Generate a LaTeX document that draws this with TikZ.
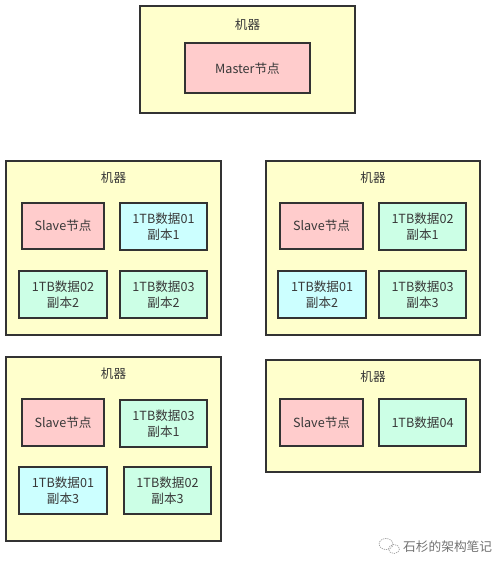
\documentclass[tikz,border=0pt]{standalone}
\usepackage{fontspec}
\setmainfont{Noto Sans CJK SC}
\begin{document}
\begin{tikzpicture}[x=1pt,y=-1pt,
  machine/.style={draw=black!80,line width=1.4pt,fill=machfill},
  inner/.style={draw=black!80,line width=1.8pt},
  slave/.style={inner,fill=slavefill},
  cyanbox/.style={inner,fill=cyanfill},
  mintbox/.style={inner,fill=mintfill},
  lbl/.style={font=\fontsize{12.6}{16}\selectfont,text=black!78,align=center,inner sep=0pt}]
\definecolor{machfill}{HTML}{FFFFCC}
\definecolor{slavefill}{HTML}{FFCCCC}
\definecolor{cyanfill}{HTML}{CCFFFF}
\definecolor{mintfill}{HTML}{CCFFE6}
\useasboundingbox[fill=white] (0,0) rectangle (500,562);
% top machine
\draw[machine] (140,6) rectangle (355,113);
\node[lbl] (m0) at (247.5,25) {机器};
\draw[slave] (185,43) rectangle (310,93);
\node[lbl] (master) at (247.5,69) {Master节点};
% machine 1
\draw[machine] (6,161) rectangle (221,335);
\node[lbl] (m1) at (113.5,178) {机器};
\draw[slave] (22,203) rectangle (104,249);
\node[lbl] (s1) at (63,226) {Slave节点};
\draw[cyanbox] (120,203) rectangle (207,250);
\node[lbl] (a1) at (163.5,226.5) {1TB数据01\\副本1};
\draw[mintbox] (19,271) rectangle (107,318);
\node[lbl] (b1) at (63,294.5) {1TB数据02\\副本2};
\draw[mintbox] (120,271) rectangle (207,318);
\node[lbl] (c1) at (163.5,294.5) {1TB数据03\\副本2};
% machine 2
\draw[machine] (266,161) rectangle (480,335);
\node[lbl] (m2) at (373,178) {机器};
\draw[slave] (280,203) rectangle (363,249);
\node[lbl] (s2) at (321.5,226) {Slave节点};
\draw[mintbox] (379,203) rectangle (466,250);
\node[lbl] (a2) at (422.5,226.5) {1TB数据02\\副本1};
\draw[cyanbox] (278,271) rectangle (366,318);
\node[lbl] (b2) at (322,294.5) {1TB数据01\\副本2};
\draw[mintbox] (379,271) rectangle (466,318);
\node[lbl] (c2) at (422.5,294.5) {1TB数据03\\副本3};
% machine 3
\draw[machine] (6,357) rectangle (221,541);
\node[lbl] (m3) at (113.5,374) {机器};
\draw[slave] (22,399) rectangle (104,446);
\node[lbl] (s3) at (63,422.5) {Slave节点};
\draw[mintbox] (120,400) rectangle (207,447);
\node[lbl] (a3) at (163.5,423.5) {1TB数据03\\副本1};
\draw[cyanbox] (19,467) rectangle (107,514);
\node[lbl] (b3) at (63,490.5) {1TB数据01\\副本3};
\draw[mintbox] (124,467) rectangle (211,514);
\node[lbl] (c3) at (167.5,490.5) {1TB数据02\\副本3};
% machine 4
\draw[machine] (266,360) rectangle (480,472);
\node[lbl] (m4) at (373,377) {机器};
\draw[slave] (280,399) rectangle (363,446);
\node[lbl] (s4) at (321.5,422.5) {Slave节点};
\draw[mintbox] (379,399) rectangle (466,446);
\node[lbl] (a4) at (422.5,422.5) {1TB数据04};
% watermark
\node[font=\fontsize{12.7}{14}\selectfont,text=black!55,anchor=west,inner sep=0pt] (wm) at (403,547) {石杉的架构笔记};
\draw[black!45,line width=0.6pt,dash pattern=on 1.2pt off 1pt] (386,544) ellipse (7 and 5.5);
\draw[black!45,line width=0.6pt,dash pattern=on 1.2pt off 1pt] (394,549) ellipse (5.5 and 4.5);
\end{tikzpicture}
\end{document}
